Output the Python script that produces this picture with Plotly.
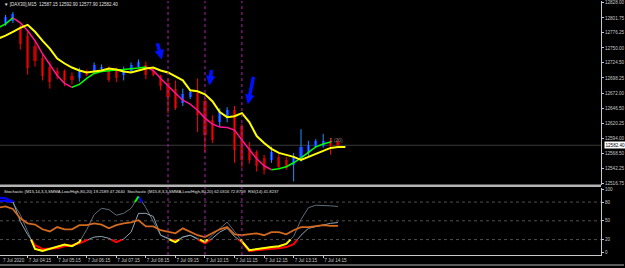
import plotly.graph_objects as go

# ---------------- data ----------------
candle_idx = list(range(47))
opens = [12788, 12790, 12797, 12786, 12771, 12754, 12732, 12718, 12711, 12709.5,
         12701, 12697.5, 12709.5, 12711, 12713, 12715, 12711, 12702.6, 12711, 12718,
         12721.5, 12711, 12701, 12689, 12680, 12655, 12665, 12672, 12658, 12626,
         12622, 12629, 12643, 12615, 12578, 12571, 12561, 12557, 12562, 12557,
         12549, 12557, 12569, 12580, 12581, 12590, 12587.15]
highs = [12800, 12807, 12812, 12790, 12780, 12762.5, 12739, 12727, 12716, 12713,
         12708, 12716, 12713, 12725, 12721.5, 12718, 12716, 12718, 12725, 12730,
         12726.6, 12715, 12704, 12697.5, 12694, 12680, 12677, 12697.5, 12663, 12634,
         12646, 12648, 12650, 12619, 12588, 12574, 12566, 12580, 12567.5, 12562,
         12569, 12610, 12590, 12593, 12602, 12595, 12592.90]
lows = [12780, 12788, 12793, 12747, 12704, 12718, 12694, 12680, 12696, 12684,
        12687, 12692, 12701, 12706, 12709.5, 12691, 12691, 12694, 12708, 12716,
        12696, 12701, 12677, 12637.7, 12643, 12650, 12662, 12605, 12571, 12586,
        12614, 12622, 12552, 12544, 12550.5, 12537, 12532, 12552, 12540, 12540,
        12520, 12554, 12564, 12578, 12578, 12566, 12577.90]
closes = [12797, 12803.5, 12809, 12756, 12715, 12728, 12701, 12691, 12701, 12694,
          12694, 12711, 12704, 12720, 12718, 12694, 12697.5, 12713, 12720, 12726.6,
          12702.6, 12704, 12684, 12665, 12646, 12670, 12674, 12634, 12600, 12591.5,
          12639, 12643, 12574, 12557, 12557, 12547, 12540, 12571, 12545, 12544,
          12564, 12580, 12583, 12590, 12590, 12581, 12582.40]

fast_ma = [12784.7, 12791.6, 12801.8, 12793.3, 12779.6, 12762.5, 12740.3, 12721.5, 12702.6, 12689.0,
           12682.2, 12687.3, 12697.5, 12706.1, 12709.5, 12711.2, 12712.0, 12712.9, 12713.8, 12715.5,
           12717.2, 12711.2, 12697.5, 12683.9, 12671.9, 12659.9, 12653.1, 12642.8, 12629.1, 12618.9,
           12613.7, 12612.9, 12608.6, 12591.5, 12574.4, 12559.0, 12547.0, 12540.2, 12541.9, 12545.3,
           12552.2, 12560.7, 12570.9, 12579.5, 12584.6, 12588.1]
slow_ma = [12765.9, 12771.1, 12777.9, 12784.7, 12789.9, 12777.9, 12762.5, 12748.8, 12731.7, 12723.2,
           12716.3, 12711.2, 12707.8, 12709.5, 12711.2, 12714.6, 12712.9, 12709.5, 12707.8, 12711.2,
           12714.6, 12716.3, 12711.2, 12707.8, 12700.9, 12694.1, 12677.0, 12675.3, 12670.2, 12658.2,
           12639.4, 12630.8, 12632.5, 12637.7, 12622.3, 12598.3, 12586.4, 12576.1, 12569.2, 12565.8,
           12562.4, 12557.3, 12562.4, 12567.5, 12572.7, 12577.8, 12579.5, 12579.5]

rsi = [71, 73, 69, 54, 46, 44, 36.5, 33, 40, 36.5, 36.5, 43, 43, 46, 44, 38, 43, 46, 47.6, 51,
       41, 41, 35, 32, 30, 38, 32, 27, 24, 30, 36.5, 40, 28.5, 27, 28.5, 30, 27, 32, 32, 28.5,
       35, 40, 40, 41, 43, 42, 41.8]
stoch_a = [82, 82, 79, 60, 33, 5, 2, 5, 8, 12, 9.5, 16, 36, 60, 70, 68, 59, 62, 70, 89,
           71, 49, 27, 21, 16, 24, 27, 22, 16, 27, 38, 48, 33, 17, 3, 5, 6.5, 8, 9.5, 13,
           25, 52, 71, 75, 75, 74, 73]
stoch_b = [87, 86, 81, 49, 28, 11, 5, 5, 6, 9.5, 11, 14, 19, 24, 25, 22, 16, 21, 32, 62,
           62, 57, 27, 22, 17.5, 24, 27, 20.5, 14, 22, 32, 38, 25, 16, 1.6, 3, 5, 5.5, 6.3, 8,
           12.7, 27, 38, 41, 44, 46, 47.3]

price_ticks = [12828.00, 12801.75, 12776.25, 12750.00, 12724.50, 12698.25, 12672.00,
               12646.50, 12620.25, 12594.00, 12568.50, 12542.25, 12516.75]
osc_ticks = [100, 80, 50, 20, 0]
osc_levels = [80, 50, 20]
time_tick_idx = [4, 8, 12, 16, 20, 24, 28, 32, 36, 40, 44]
time_tick_text = ["7 Jul 04:15", "7 Jul 05:15", "7 Jul 06:15", "7 Jul 07:15", "7 Jul 08:15",
                  "7 Jul 09:15", "7 Jul 10:15", "7 Jul 11:15", "7 Jul 12:15", "7 Jul 13:15",
                  "7 Jul 14:15"]
first_date_label = "7 Jul 2020"
vline_idx = [23, 28, 33]
arrow_tail_i = [21.5, 28.9, 34.6]
arrow_tail_p = [12760.8, 12714.6, 12702.6]
arrow_head_i = [22.15, 28.6, 33.8]
arrow_head_p = [12730.0, 12685.6, 12653.0]

header_text = "\u25BC [DAX30],M15  12587.15 12592.90 12577.90 12582.40"
osc_text = ("Stochastic (M15,14,3,3,SMMA,Low/High,80,20) 19.2189 47.2640  "
            "Stochastic (M15,8,3,3,SMMA,Low/High,80,20) 62.0316 72.8759  RSI(14) 41.8237")
line_label = "1 (20)"

# ---------------- helpers ----------------
def split_by_slope(xs, ys):
    up_x, up_y, dn_x, dn_y = [], [], [], []
    for k in range(len(xs) - 1):
        tx, ty = (up_x, up_y) if ys[k + 1] > ys[k] else (dn_x, dn_y)
        if tx and tx[-1] == xs[k]:
            tx.append(xs[k + 1]); ty.append(ys[k + 1])
        else:
            if tx:
                tx.append(None); ty.append(None)
            tx += [xs[k], xs[k + 1]]; ty += [ys[k], ys[k + 1]]
    return up_x, up_y, dn_x, dn_y


def clip(xs, ys, thr, below=True, slope=None):
    X, Y = [], []
    for k in range(len(xs) - 1):
        x0, y0, x1, y1 = xs[k], ys[k], xs[k + 1], ys[k + 1]
        if slope == 'up' and not y1 > y0:
            continue
        if slope == 'down' and not y1 <= y0:
            continue
        in0 = y0 < thr if below else y0 > thr
        in1 = y1 < thr if below else y1 > thr
        if not in0 and not in1:
            continue
        if in0 and in1:
            a, b = (x0, y0), (x1, y1)
        else:
            t = (thr - y0) / (y1 - y0)
            xc = x0 + t * (x1 - x0)
            a, b = ((x0, y0), (xc, thr)) if in0 else ((xc, thr), (x1, y1))
        if X and X[-1] == a[0] and Y[-1] == a[1]:
            X.append(b[0]); Y.append(b[1])
        else:
            if X:
                X.append(None); Y.append(None)
            X += [a[0], b[0]]; Y += [a[1], b[1]]
    return X, Y

# ---------------- figure ----------------
W, H = 625, 268
FONT = "Liberation Sans"
TXT = "#C8C8C8"
UP_BODY, UP_WICK = "#0A28FF", "#1E90FF"
DN_BODY, DN_WICK = "#8B0000", "#FF0000"
fig = go.Figure()

# candles: wicks then bodies
for bull, wcol in ((True, UP_WICK), (False, DN_WICK)):
    wx, wy = [], []
    for i, o, h, l, c in zip(candle_idx, opens, highs, lows, closes):
        if (c >= o) == bull:
            wx += [i, i, None]; wy += [l, h, None]
    fig.add_trace(go.Scatter(x=wx, y=wy, mode="lines", line=dict(color=wcol, width=1),
                             showlegend=False, xaxis="x", yaxis="y", hoverinfo="skip"))
body_base = [min(o, c) for o, c in zip(opens, closes)]
body_len = [max(abs(c - o), 0.8) for o, c in zip(opens, closes)]
body_col = [UP_BODY if c >= o else DN_BODY for o, c in zip(opens, closes)]
fig.add_trace(go.Bar(x=candle_idx, y=body_len, base=body_base, width=0.42,
                     marker=dict(color=body_col, line=dict(width=0)),
                     showlegend=False, xaxis="x", yaxis="y"))

fx = list(range(len(fast_ma)))
ux, uy, dx, dy = split_by_slope(fx, fast_ma)
fig.add_trace(go.Scatter(x=dx, y=dy, mode="lines", line=dict(color="#FF1493", width=1.5),
                         showlegend=False, xaxis="x", yaxis="y"))
fig.add_trace(go.Scatter(x=ux, y=uy, mode="lines", line=dict(color="#00FF00", width=1.5),
                         showlegend=False, xaxis="x", yaxis="y"))
fig.add_trace(go.Scatter(x=list(range(len(slow_ma))), y=slow_ma, mode="lines",
                         line=dict(color="#FFFF00", width=2), showlegend=False,
                         xaxis="x", yaxis="y"))

# oscillator window
ox = list(range(len(rsi)))
fig.add_trace(go.Scatter(x=ox, y=stoch_a, mode="lines", line=dict(color="#5E6E7A", width=1),
                         showlegend=False, xaxis="x2", yaxis="y2"))
fig.add_trace(go.Scatter(x=ox, y=stoch_b, mode="lines", line=dict(color="#8FA3B3", width=1),
                         showlegend=False, xaxis="x2", yaxis="y2"))
fig.add_trace(go.Scatter(x=ox, y=rsi, mode="lines", line=dict(color="#D2691E", width=1.8),
                         showlegend=False, xaxis="x2", yaxis="y2"))
for series, col in ((stoch_b, "#FF0000"), (stoch_a, "#FFFF00")):
    cx, cy = clip(ox, series, 20, below=True)
    fig.add_trace(go.Scatter(x=cx, y=cy, mode="lines", line=dict(color=col, width=2),
                             showlegend=False, xaxis="x2", yaxis="y2"))
for series in (stoch_a, stoch_b):
    cx, cy = clip(ox, series, 80, below=False, slope='down')
    fig.add_trace(go.Scatter(x=cx, y=cy, mode="lines", line=dict(color="#0000FF", width=2),
                             showlegend=False, xaxis="x2", yaxis="y2"))
    cx, cy = clip(ox, series, 80, below=False, slope='up')
    fig.add_trace(go.Scatter(x=cx, y=cy, mode="lines", line=dict(color="#00FF00", width=2),
                             showlegend=False, xaxis="x2", yaxis="y2"))

x_end = 602 / W
main_dom = [1 - 185 / H, 1]
osc_dom = [1 - 256 / H, 1 - 188.5 / H]
xr = [0.257, 0.257 + 602 / 7.4]

fig.update_layout(
    width=W, height=H, margin=dict(l=0, r=0, t=0, b=0),
    paper_bgcolor="#000000", plot_bgcolor="#000000",
    font=dict(family=FONT, size=5, color=TXT),
    showlegend=False, bargap=0,
    xaxis=dict(domain=[0, x_end], range=xr, showgrid=False, zeroline=False,
               showticklabels=False, anchor="y", showline=False, ticks=""),
    yaxis=dict(domain=main_dom, range=[12514.55, 12830.9], side="right", anchor="x",
               tickvals=price_ticks, ticktext=[f"{v:.2f}" for v in price_ticks],
               showgrid=False, zeroline=False, showline=True, linecolor="#C8C8C8",
               linewidth=1, ticks="outside", ticklen=2, tickcolor="#C8C8C8",
               tickfont=dict(size=4.6, color=TXT, family=FONT)),
    xaxis2=dict(domain=[0, x_end], range=xr, matches="x", anchor="y2",
                showgrid=False, zeroline=False, showline=True, linecolor="#C8C8C8",
                tickvals=time_tick_idx, ticktext=time_tick_text, ticks="outside",
                ticklen=2, tickcolor="#C8C8C8", ticklabelposition="outside right",
                tickangle=0, tickfont=dict(size=4.6, color=TXT, family=FONT)),
    yaxis2=dict(domain=osc_dom, range=[-4.8, 102.4], side="right", anchor="x2",
                tickvals=osc_ticks, ticktext=[str(v) for v in osc_ticks],
                showgrid=False, zeroline=False, showline=True, linecolor="#C8C8C8",
                ticks="outside", ticklen=2, tickcolor="#C8C8C8",
                tickfont=dict(size=4.6, color=TXT, family=FONT)),
)

shapes = []
shapes.append(dict(type="line", xref="paper", yref="y", x0=0, x1=x_end,
                   y0=closes[-1], y1=closes[-1], line=dict(color="#3A3A3A", width=1),
                   layer="below"))
for lv in osc_levels:
    shapes.append(dict(type="line", xref="paper", yref="y2", x0=0, x1=x_end, y0=lv, y1=lv,
                       line=dict(color="#505050", width=1, dash="dot"), layer="below"))
for vi in vline_idx:
    shapes.append(dict(type="line", xref="x", yref="paper", x0=vi, x1=vi,
                       y0=osc_dom[0], y1=1, line=dict(color="#B020B0", width=1, dash="dot")))
shapes.append(dict(type="rect", xref="paper", yref="paper", x0=0, x1=x_end,
                   y0=1 - 187.5 / H, y1=1 - 185 / H, fillcolor="#B4B4B4", line=dict(width=0)))
shapes.append(dict(type="line", xref="paper", yref="paper", x0=0, x1=1,
                   y0=1 - 266 / H, y1=1 - 266 / H, line=dict(color="#B4B4B4", width=1)))
fig.update_layout(shapes=shapes)

ann = []
for ti, tp, hi, hp in zip(arrow_tail_i, arrow_tail_p, arrow_head_i, arrow_head_p):
    ann.append(dict(x=hi, y=hp, ax=ti, ay=tp, xref="x", yref="y", axref="x", ayref="y",
                    showarrow=True, arrowhead=2, arrowsize=0.55, arrowwidth=3.5,
                    arrowcolor="#0010FF", text=""))
ann.append(dict(x=0.003, y=1 - 4 / H, xref="paper", yref="paper", xanchor="left",
                yanchor="middle", showarrow=False, text=header_text,
                font=dict(size=4.5, color="#E0E0E0", family=FONT)))
ann.append(dict(x=0.003, y=1 - 191.5 / H, xref="paper", yref="paper", xanchor="left",
                yanchor="middle", showarrow=False, text=osc_text,
                font=dict(size=4.2, color="#E0E0E0", family=FONT)))
ann.append(dict(x=0.002, y=1 - 261 / H, xref="paper", yref="paper", xanchor="left",
                yanchor="middle", showarrow=False, text=first_date_label,
                font=dict(size=4.6, color=TXT, family=FONT)))
ann.append(dict(x=x_end + 0.004, y=closes[-1], xref="paper", yref="y", xanchor="left",
                yanchor="middle", showarrow=False, text=f"{closes[-1]:.2f}",
                bgcolor="#FFFFFF", borderpad=0.5,
                font=dict(size=4.6, color="#000000", family=FONT)))
ann.append(dict(x=candle_idx[-1] - 1.4, y=12590, xref="x", yref="y", xanchor="left",
                yanchor="middle", showarrow=False, text=line_label,
                font=dict(size=4.8, color="#808080", family=FONT)))
fig.update_layout(annotations=ann)

fig.write_html("out.html")
